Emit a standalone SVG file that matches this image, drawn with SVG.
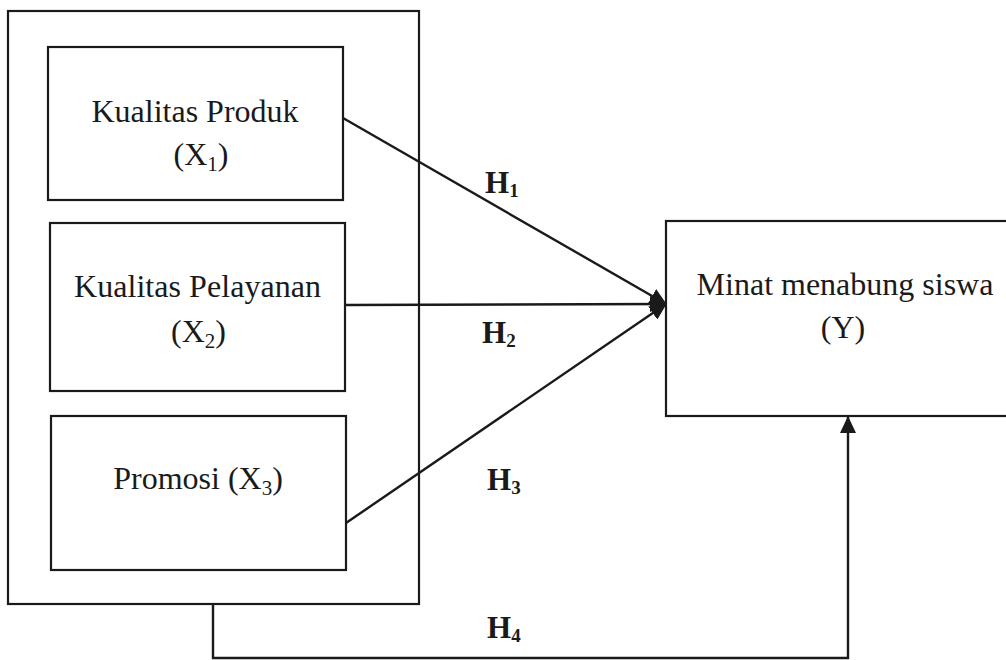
<svg xmlns="http://www.w3.org/2000/svg" width="1006" height="660" viewBox="0 0 1006 660">
<style>
.box{fill:none;stroke:#1a1a1a;stroke-width:2.2}
.ln{fill:none;stroke:#1a1a1a;stroke-width:2.4}
.t{font-family:"Liberation Serif","Times New Roman",serif;font-size:32px;fill:#1a1a1a;text-anchor:middle}
.h{font-family:"Liberation Serif","Times New Roman",serif;font-size:31px;font-weight:bold;fill:#1a1a1a}
.sub{font-size:21px}
.hs{font-size:19px}
</style>
<defs>
<marker id="ah" markerUnits="userSpaceOnUse" markerWidth="18" markerHeight="16" refX="16" refY="8" orient="auto">
<path d="M0,0 L17,8 L0,16 z" fill="#1a1a1a"/>
</marker>
</defs>
<rect width="1006" height="660" fill="#ffffff"/>
<g id="group-x">
<rect class="box" x="8" y="11" width="411" height="593"/>
</g>
<g id="x1">
<rect class="box" x="48" y="47" width="295" height="153"/>
<text class="t" x="195" y="122">Kualitas Produk</text>
<text class="t" x="201" y="165">(X<tspan class="sub" dy="6">1</tspan><tspan dy="-6">)</tspan></text>
</g>
<g id="x2">
<rect class="box" x="50" y="223" width="295" height="168"/>
<text class="t" x="197.5" y="297" textLength="247">Kualitas Pelayanan</text>
<text class="t" x="198.5" y="342">(X<tspan class="sub" dy="6">2</tspan><tspan dy="-6">)</tspan></text>
</g>
<g id="x3">
<rect class="box" x="51" y="416" width="295" height="154"/>
<text class="t" x="198" y="489">Promosi (X<tspan class="sub" dy="6">3</tspan><tspan dy="-6">)</tspan></text>
</g>
<g id="y">
<rect class="box" x="666" y="221" width="370" height="195"/>
<text class="t" x="845" y="295">Minat menabung siswa</text>
<text class="t" x="843" y="338">(Y)</text>
</g>
<g id="connectors">
<line class="ln" x1="343" y1="118" x2="666" y2="304" marker-end="url(#ah)"/>
<line class="ln" x1="345" y1="305" x2="666" y2="304" marker-end="url(#ah)"/>
<line class="ln" x1="346" y1="523" x2="666" y2="304" marker-end="url(#ah)"/>
<polyline class="ln" points="213,604 213,658 848,658 848,417" marker-end="url(#ah)"/>
</g>
<g id="labels">
<text class="h" x="485" y="193">H<tspan class="hs" dy="4">1</tspan></text>
<text class="h" x="482" y="343">H<tspan class="hs" dy="4">2</tspan></text>
<text class="h" x="487" y="490">H<tspan class="hs" dy="4">3</tspan></text>
<text class="h" x="487" y="638">H<tspan class="hs" dy="4">4</tspan></text>
</g>
</svg>
